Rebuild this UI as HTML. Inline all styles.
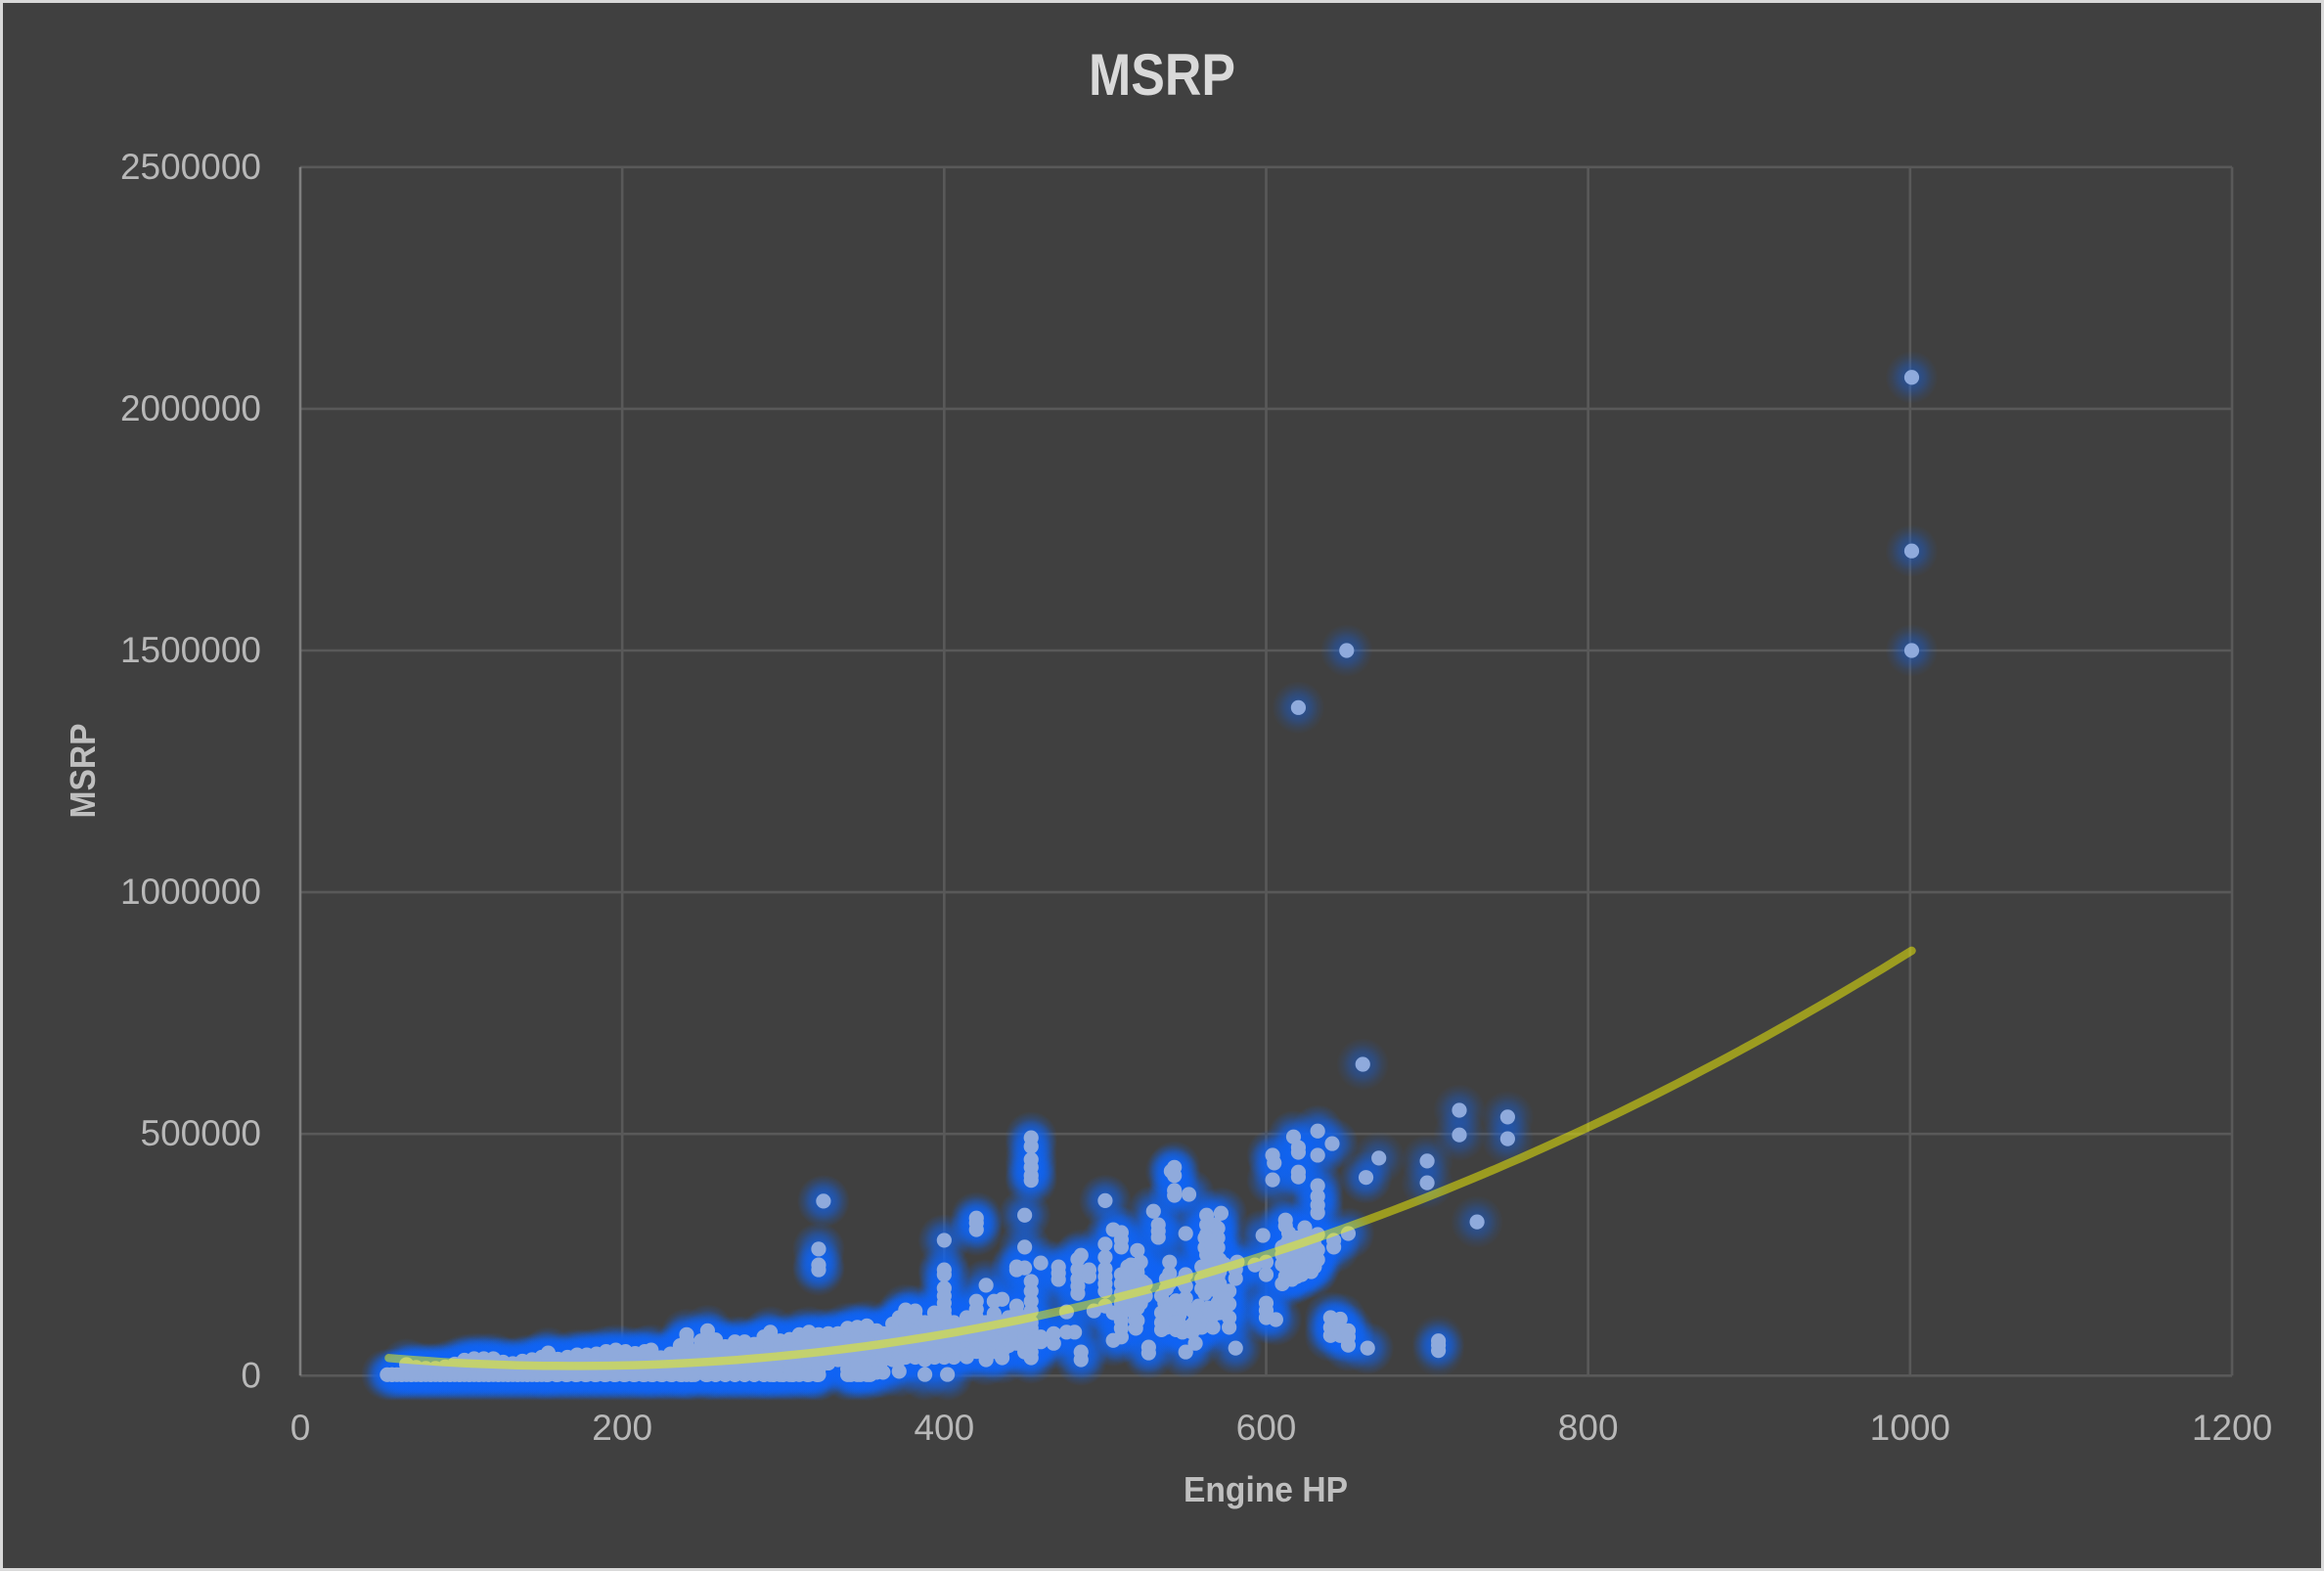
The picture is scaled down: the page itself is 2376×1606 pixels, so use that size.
<!DOCTYPE html>
<html lang="en">
<head>
<meta charset="utf-8">
<title>MSRP vs Engine HP</title>
<style>
html,body{margin:0;padding:0;background:#404040;}
svg{display:block;}
text{font-family:"Liberation Sans",sans-serif;}
</style>
</head>
<body>
<svg id="chart" xmlns="http://www.w3.org/2000/svg" width="2376" height="1606" viewBox="0 0 2376 1606">
  <defs>
    <radialGradient id="glow">
      <stop offset="0" stop-color="rgb(14,100,245)" stop-opacity="0.42"/>
      <stop offset="0.26" stop-color="rgb(14,100,245)" stop-opacity="0.42"/>
      <stop offset="0.5" stop-color="rgb(14,100,245)" stop-opacity="0.3"/>
      <stop offset="0.75" stop-color="rgb(14,100,245)" stop-opacity="0.12"/>
      <stop offset="1" stop-color="rgb(14,100,245)" stop-opacity="0"/>
    </radialGradient>
  </defs>
  <rect x="1.5" y="1.5" width="2373" height="1603" fill="#404040" stroke="#d9d9d9" stroke-width="3"/>
  <g id="grid"></g>
  <g id="glows"></g>
  <g id="points"></g>
  <g id="trend"></g>
  <g id="ticks"></g>
  <text x="1188" y="97" text-anchor="middle" font-size="60" font-weight="700" fill="#d9d9d9" textLength="150" lengthAdjust="spacingAndGlyphs">MSRP</text>
  <text x="1294" y="1535" text-anchor="middle" font-size="36" font-weight="700" fill="#bfbfbf" textLength="168" lengthAdjust="spacingAndGlyphs">Engine HP</text>
  <text transform="translate(97,788) rotate(-90)" text-anchor="middle" font-size="36" font-weight="700" fill="#bfbfbf" textLength="97" lengthAdjust="spacingAndGlyphs">MSRP</text>
</svg>
<script>
const xTicks = [0, 200, 400, 600, 800, 1000, 1200];
const yTicks = [0, 500000, 1000000, 1500000, 2000000, 2500000];

// Quadratic trendline coefficients: c, b, a
const trendCoefficients = [55950, -423, 1.244];
const trendRange = [55, 1001];

// Many cars share the cheapest price tier, so the bottom row is stacked densely.
const bottomRowHp = [
  57, 63, 69, 75, 81, 87, 93, 99, 105, 111, 117, 123, 129, 135, 141, 147,
  153, 159, 165, 171, 177, 183, 189, 195, 201, 207, 213, 219, 225, 231, 237, 243,
  252, 258, 264, 270, 276, 282, 288, 294, 300, 306, 315, 321, 342, 348, 354
];
const bottomRowMsrp = [
  [2000,2000],[2000,2000],[2000,2000],[2000,2000],[2000,2000],[2000,2000],[2000,2000],[2000,2000],[2000,2000],[2000,2000],[2000,2000],[2000,2000],[2000,2000],[2000,2000],[2000,2000],[2000,2000],
  [2000,2000],[2000,2000],[2000,2000],[2000,2000],[2000,2000],[2000,2000],[2000,2000],[2000,2000],[2000,2000],[2000,2000],[2000,2000],[2000,2000],[2000,2000],[2000,2000],[2000,2000],[2000,2000],
  [2000,2000],[2000,2000],[2000,2000],[2000,2000],[2000,2000],[2000,2000],[2000,2000],[2000,2000],[2000,2000],[2000,2000],[2000,2000],[2000,2000],[2000],[2000],[2000]
];

const lowBandHp = [
  54, 60, 66, 72, 78, 84, 90, 96,
  102, 108, 114, 120, 126, 132, 138, 144,
  150, 154, 160, 166, 172, 178, 184, 190,
  196, 202, 208, 214, 218, 224, 230, 236,
  240, 245, 249, 253, 258, 264, 270, 276,
  282, 288, 292, 298, 304, 310, 316, 322,
  325, 328, 334, 340, 346, 352, 358, 362,
  368, 372, 376, 382, 388, 394
];
const lowBandMsrp = [
  [2000],[2000],[2000,12000,23000],[2000,12000,17000],[2000,12000,15000],[2000,12000,15000],[2000,12000,18000],[2000,12000,24000],
  [2000,14000,26000,32000],[2000,14000,26000,35000],[2000,14000,26000,35000],[2000,14000,26000,35000],[2000,14000,26000,28000],[2000,14000,25000],[2000,14000,26000,30000],[2000,14000,26000,33000],
  [2000,14000,26000,38000],[2000,14000,26000,38000,47000],[2000,14000,26000,34000],[2000,14000,26000,38000],[2000,14000,26000,38000,43000],[2000,14000,26000,38000,43000],[2000,14000,26000,38000,45000],[2000,14000,26000,38000,50000],
  [2000,14000,26000,38000,53000],[2000,14000,26000,38000,50000],[2000,14000,26000,38000,46000],[2000,14000,26000,38000,50000],[2000,14000,26000,38000,53000],[2000,14000,26000,37000],[2000,14000,26000,38000,45000],[2000,14000,26000,38000,50000,62000],
  [2000,14000,26000,38000,50000,62000,74000,85000],[2000,14000,26000,38000,50000],[14000,26000,38000,50000,62000,72000],[2000,14000,26000,38000,50000,62000,80000,93000],[2000,14000,26000,38000,50000,62000,74000],[2000,14000,26000,38000,50000,60000],[2000,14000,26000,38000,50000,62000,70000],[2000,14000,26000,38000,50000,62000,70000],
  [2000,14000,26000,38000,50000,65000],[2000,14000,26000,38000,50000,62000,70000,80000],[2000,14000,26000,38000,50000,62000,74000,90000],[2000,14000,26000,38000,50000,62000,72000],[2000,14000,26000,38000,50000,62000,75000],[2000,14000,26000,38000,50000,62000,74000,85000],[2000,14000,26000,38000,50000,62000,74000,90000],[2000,14000,26000,38000,50000,62000,74000,85000,219000,229000,262000],
  [361000],[26000,38000,50000,62000,74000,87000],[33000,45000,57000,69000,81000,87000],[2000,14000,33000,45000,57000,69000,81000,98000],[2000,14000,33000,45000,57000,69000,81000,93000,100000],[2000,14000,33000,45000,57000,69000,81000,93000,103000],[7000,33000,45000,57000,69000,81000,93000],[7000,33000,45000,57000,69000,81000,87000],
  [33000,45000,57000,69000,81000,95000,107000],[9000,33000,45000,57000,69000,81000,95000,107000,120000],[38000,50000,62000,74000,86000,98000,110000,120000,136000],[38000,50000,62000,74000,86000,98000,110000,122000,134000],[2500,33000,50000,62000,74000,86000,98000,110000],[38000,50000,62000,74000,86000,98000,110000,130000]
];

const midClusterHp = [
  400, 402, 406, 414, 420, 426, 431, 436,
  440, 445, 450, 454, 460, 468, 471, 476,
  481, 483, 485, 490, 493, 500, 505, 510,
  516, 519, 520, 523, 525, 527, 530, 533
];
const midClusterMsrp = [
  [38000,50000,62000,74000,86000,98000,110000,125000,135000,150000,165000,181000,209000,219000,280000],[2500],[38000,50000,62000,74000,86000,98000,110000],[39000,50000,62000,74000,86000,98000,110000,120000],[50000,62000,74000,86000,98000,110000,120000,137000,154000,302000,316000,326000],[33000,50000,62000,74000,86000,98000,110000,187000],[50000,62000,74000,86000,98000,110000,128000,154000],[37000,50000,62000,74000,86000,98000,110000,158000],
  [62000,74000,86000,98000,110000,120000],[67000,80000,95000,110000,130000,144000,219000,225000],[49000,70000,85000,100000,120000,223000,266000,332000],[37000,49000,62000,74000,86000,98000,110000,134000,154000,175000,195000,404000,414000,431000,447000,474000,492000],[70000,80000,233000],[67000,87000],[199000,212000,225000],[90000,132000],
  [90000],[170000,185000,200000,220000,241000],[33000,49000,249000],[205000,219000],[134000],[144000,175000,190000,205000,221000,245000,272000,362000],[73000,130000,302000],[80000,98000,114000,130000,150000,170000,190000,209000,266000,281000,296000],
  [229000],[98000,114000],[114000,140000,200000,213000,225000,259000],[195000],[165000,189000],[47000,59000],[340000],[286000,299000,312000]
];

const highClusterHp = [
  537, 540, 541, 543, 546, 550, 552, 556,
  558, 560, 563, 564, 567, 568, 571, 572,
  577, 581, 582, 593, 598, 600, 604, 605,
  606, 610, 612, 616, 617, 620, 622, 624,
  628, 632, 640, 641, 642, 646, 651, 662, 663
];
const highClusterMsrp = [
  [150000],[191000,211000,235000],[120000,423000],[373000,383000,414000,431000],[107000,125000],[49000,98000,160000,185000,209000,294000],[375000],[67000,115000],
  [100000,144000],[100000,120000,180000,200000,225000],[201000,225000,250000,272000,292000,312000,332000],[115000,140000],[100000,125000],[240000,256000,290000,312000],[130000,168000,190000,215000,240000],[336000],
  [100000,120000,148000,175000],[57000,201000,220000],[235000],[229000],[290000],[120000,135000,150000,209000,235000],[405000,456000],[440000],
  [116000],[190000,230000,250000,266000],[310000,322000],[199000,215000,235000,255000,270000],[494000],[411000,421000,462000,472000],[209000,225000,240000,260000,282000],[280000,306000],
  [215000,235000,255000,275000],[240000,260000,292000,337000,353000,371000,393000,456000,506000],[83000,100000,120000],[480000],[266000,280000],[83000,100000,117000],[63000,80000,93000,294000],[410000],[57000]
];

const denseFillHp = [514, 518, 522, 535, 538, 544, 548, 554, 562, 566, 570, 574, 612, 614, 619, 626, 630];
const denseFillMsrp = [
  [140000,160000,180000,205000,225000],[130000,150000,170000,215000],[150000,165000,180000,235000],[95000,110000,130000,165000],[100000,135000,180000,200000],[95000,110000,140000,155000],[90000,140000,195000],[90000,105000,135000],
  [170000,190000,265000,285000],[180000,200000,220000,270000],[150000,205000,265000,285000,305000],[135000,160000,230000],[205000,225000,240000,270000],[210000,230000,250000,280000,295000],[205000,225000,245000,265000,285000],[225000,245000,265000,290000],[225000,250000,270000,285000]
];

const outlierHp = [620, 650, 660, 670, 700, 707, 720, 731, 750, 1001];
const outlierMsrp = [
  [1382000],[1500000],[644000],[450000],[399000,444000],[52000,63000,72000],[498000,549000],[318000],[490000,535000],[1500000,1706000,2065000]
];

const SVG_NS = 'http://www.w3.org/2000/svg';
function xScale(hp) { return 307 + hp * (2282 - 307) / 1200; }
function yScale(msrp) { return 1406.3 - msrp * 1235.5 / 2500000; }

const gridLayer = document.getElementById('grid');
const glowLayer = document.getElementById('glows');
const pointLayer = document.getElementById('points');
const trendLayer = document.getElementById('trend');
const tickLayer = document.getElementById('ticks');

function makeLine(x1, y1, x2, y2, color, width) {
  const line = document.createElementNS(SVG_NS, 'line');
  line.setAttribute('x1', x1);
  line.setAttribute('y1', y1);
  line.setAttribute('x2', x2);
  line.setAttribute('y2', y2);
  line.setAttribute('stroke', color);
  line.setAttribute('stroke-width', width);
  return line;
}

function makeLabel(x, y, anchor, content) {
  const label = document.createElementNS(SVG_NS, 'text');
  label.setAttribute('x', x);
  label.setAttribute('y', y);
  label.setAttribute('text-anchor', anchor);
  label.setAttribute('font-size', '37');
  label.setAttribute('fill', '#b8b8b8');
  label.textContent = content;
  return label;
}

yTicks.forEach(function (tick) {
  const gridLine = makeLine(xScale(0), yScale(tick), xScale(1200), yScale(tick), '#595959', 2.6);
  
  
  gridLayer.appendChild(gridLine);
  const tickLabel = makeLabel(267, yScale(tick) + 12, 'end', String(tick));
  
  
  tickLayer.appendChild(tickLabel);
});

xTicks.forEach(function (tick) {
  const color = tick === 0 ? '#7f7f7f' : '#595959';
  const gridLine = makeLine(xScale(tick), yScale(2500000), xScale(tick), yScale(0), color, 2.6);
  
  
  gridLayer.appendChild(gridLine);
  const tickLabel = makeLabel(xScale(tick), 1472, 'middle', String(tick));
  
  
  tickLayer.appendChild(tickLabel);
});

// stackDepth: how many overlapping cars each mark stands for; their glows accumulate.
function drawColumns(hpValues, msrpValues, stackDepth) {
  hpValues.forEach(function (hp, columnIndex) {
    (msrpValues[columnIndex] || []).forEach(function (msrp) {
      for (let layer = 0; layer < stackDepth; layer++) {
        const glow = document.createElementNS(SVG_NS, 'circle');
        glow.setAttribute('cx', xScale(hp));
        glow.setAttribute('cy', yScale(msrp));
        glow.setAttribute('r', 27);
        glow.setAttribute('fill', 'url(#glow)');
        
        
        glowLayer.appendChild(glow);
      }

      const dot = document.createElementNS(SVG_NS, 'circle');
      dot.setAttribute('cx', xScale(hp));
      dot.setAttribute('cy', yScale(msrp));
      dot.setAttribute('r', 7.6);
      dot.setAttribute('fill', '#8faadc');
      
      
      pointLayer.appendChild(dot);
    });
  });
}

drawColumns(bottomRowHp, bottomRowMsrp, 1);
drawColumns(lowBandHp, lowBandMsrp, 2);
drawColumns(midClusterHp, midClusterMsrp, 2);
drawColumns(highClusterHp, highClusterMsrp, 2);
drawColumns(denseFillHp, denseFillMsrp, 2);
drawColumns(outlierHp, outlierMsrp, 1);

function trendValue(hp) {
  return trendCoefficients[0] + trendCoefficients[1] * hp + trendCoefficients[2] * hp * hp;
}

let trendPath = '';
for (let hp = trendRange[0]; hp <= trendRange[1]; hp += 8) {
  trendPath += (trendPath ? ' L ' : 'M ') + xScale(hp).toFixed(1) + ' ' + yScale(trendValue(hp)).toFixed(1);
}
trendPath += ' L ' + xScale(trendRange[1]).toFixed(1) + ' ' + yScale(trendValue(trendRange[1])).toFixed(1);

const trendLine = document.createElementNS(SVG_NS, 'path');
trendLine.setAttribute('d', trendPath);
trendLine.setAttribute('fill', 'none');
trendLine.setAttribute('stroke', '#f8f800');
trendLine.setAttribute('stroke-opacity', '0.5');
trendLine.setAttribute('stroke-width', '8.5');
trendLine.setAttribute('stroke-linecap', 'round');
trendLine.setAttribute('stroke-linejoin', 'round');


trendLayer.appendChild(trendLine);
</script>
</body>
</html>
